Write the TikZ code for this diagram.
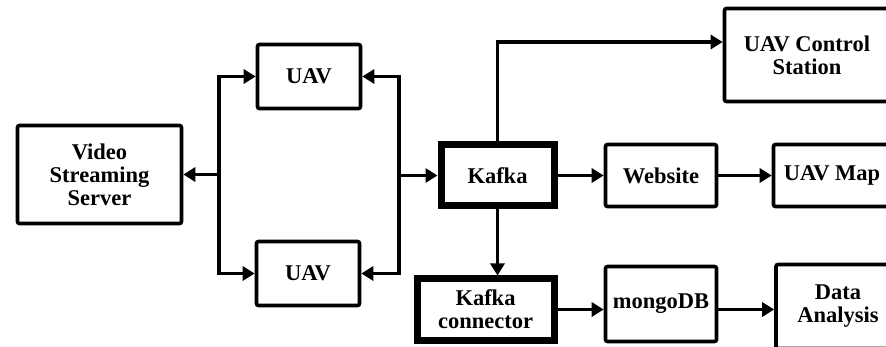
\documentclass[tikz,border=0pt]{standalone}
\usepackage{fontspec}
\setmainfont{Liberation Serif}
\usetikzlibrary{arrows.meta}
\begin{document}
\begin{tikzpicture}[x=1pt,y=-1pt,
  box/.style={draw=black,line width=3.6pt,rounded corners=2pt,align=center,inner sep=0pt,
    font=\fontsize{22.5}{23}\selectfont\bfseries},
  thickbox/.style={box,line width=7pt,rounded corners=0pt},
  arr/.style={line width=3.6pt,-{Triangle[length=12pt,width=14pt]}},
  ln/.style={line width=3.6pt}]
\useasboundingbox (0,0) rectangle (886,347);
\clip (0,0) rectangle (886,347);
\fill[white] (0,0) rectangle (886,347);
% nodes
\node[box,minimum width=164pt,minimum height=98pt] (vss) at (99.5,174.5) {Video\\Streaming\\Server};
\node[box,minimum width=103pt,minimum height=64pt] (uav1) at (309,76.5) {UAV};
\node[box,minimum width=103pt,minimum height=64pt] (uav2) at (308,273.5) {UAV};
\node[thickbox,minimum width=113pt,minimum height=61pt] (kafka) at (497.5,175.5) {Kafka};
\node[thickbox,minimum width=137pt,minimum height=61pt] (kc) at (485.5,309.5) {Kafka\\connector};
\node[box,minimum width=111pt,minimum height=62pt] (web) at (661,175.5) {Website};
\node[box,minimum width=117pt,minimum height=62pt] (map) at (832,175.5) {UAV Map};
\node[box,minimum width=165pt,minimum height=93pt] (ctrl) at (807,55) {UAV Control\\Station};
\node[box,minimum width=111pt,minimum height=75pt] (mongo) at (661,304) {mongoDB};
\node[box,minimum width=124pt,minimum height=84pt] (data) at (838,306.5) {Data\\Analysis};
% buses
\coordinate (busL) at (219,174.5);
\coordinate (busR) at (399,175.5);
\draw[arr] (busL) |- (uav1.west);
\draw[arr] (busL) |- (uav2.west);
\draw[arr] (busL) -- (vss.east);
\draw[arr] (busR) |- (uav1.east);
\draw[arr] (busR) |- (uav2.east);
\draw[arr] (busR) -- (kafka.west);
% kafka outputs
\draw[arr] (kafka.north) |- ([yshift=13pt]ctrl.west);
\draw[arr] (kafka.south) -- (kafka.south |- kc.north);
\draw[arr] (kafka.east) -- (web.west);
\draw[arr] (web.east) -- (map.west);
\draw[arr] (kc.east) -- (kc.east -| mongo.west);
\draw[arr] (kc.east -| mongo.east) -- (kc.east -| data.west);
\end{tikzpicture}
\end{document}
